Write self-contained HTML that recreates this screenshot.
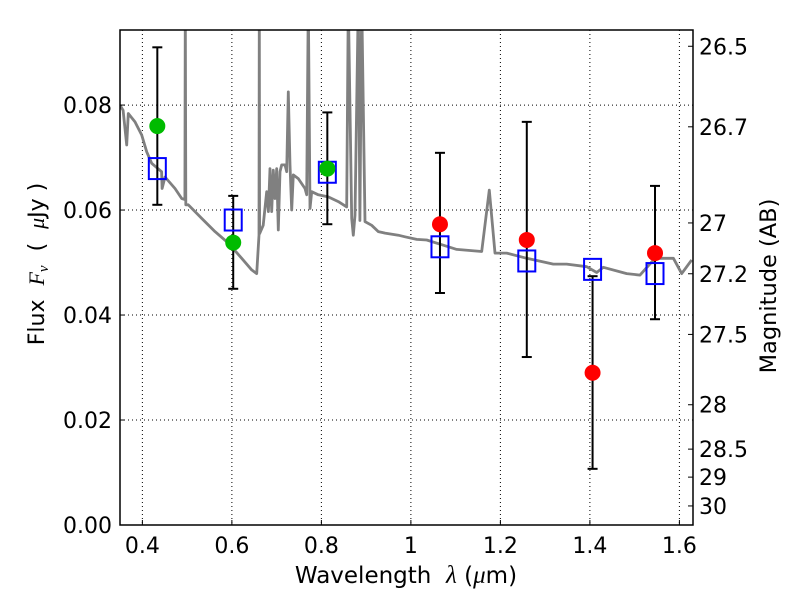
<!DOCTYPE html>
<html><head><meta charset="utf-8">
<style>
body{margin:0;background:#fff;}
svg text{font-family:"DejaVu Sans","Liberation Sans",sans-serif;fill:#000;}
</style></head>
<body>
<svg id="chart" width="800" height="600" viewBox="0 0 800 600" xmlns="http://www.w3.org/2000/svg">
<defs><clipPath id="clip"><rect x="120" y="30" width="573" height="495"/></clipPath></defs>
<rect x="0" y="0" width="800" height="600" fill="#fff"/>
<g id="grid"></g>
<g id="spec" clip-path="url(#clip)"></g>
<g id="marks" clip-path="url(#clip)"></g>
<rect x="120" y="30" width="573" height="495" fill="none" stroke="#000" stroke-width="1.5"/>
<g id="axes"></g>
<text x="406" y="583" font-size="23" text-anchor="middle">Wavelength&#160;&#160;<tspan font-family="Liberation Serif" font-style="italic" font-size="25">λ</tspan> (<tspan font-family="Liberation Serif" font-style="italic" font-size="25">μ</tspan>m)</text>
<text transform="translate(44,264) rotate(-90)" font-size="22" text-anchor="middle">Flux&#160;&#160;<tspan font-family="Liberation Serif" font-style="italic">F<tspan font-size="15" dy="4">ν</tspan></tspan><tspan dy="-4">&#160;&#160;(&#160;&#160;</tspan><tspan font-family="Liberation Serif" font-style="italic">μ</tspan>Jy )</text>
<text transform="translate(776,286) rotate(-90)" font-size="22.5" text-anchor="middle">Magnitude (AB)</text>
</svg>
<script>
const specWave=[0.35,0.357,0.365,0.3686,0.3835,0.3985,0.4097,0.4208,0.443,0.444,0.4506,0.4729,0.4878,0.495,0.496,0.497,0.5027,0.5326,0.5623,0.592,0.622,0.6443,0.6555,0.6606,0.6613,0.662,0.670,0.6778,0.6815,0.6852,0.689,0.6926,0.6964,0.7001,0.7038,0.7075,0.7113,0.7187,0.7225,0.7261,0.7299,0.7337,0.7373,0.7485,0.7634,0.7672,0.7708,0.7746,0.7784,0.7931,0.8155,0.8378,0.8566,0.8602,0.8678,0.8714,0.8751,0.8825,0.8860,0.8901,0.8975,0.9124,0.9272,0.9422,0.9719,0.9869,1.013,1.0354,1.0725,1.1024,1.1583,1.1753,1.188,1.2141,1.2588,1.3183,1.3482,1.3929,1.4152,1.43,1.4823,1.512,1.5455,1.5865,1.6052,1.6276];
const specFlux=[0.080,0.079,0.0724,0.0784,0.0768,0.0743,0.0711,0.0689,0.0673,0.0641,0.0663,0.0641,0.0622,0.062,0.10,0.061,0.0610,0.0584,0.0559,0.0537,0.0508,0.0486,0.0479,0.0552,0.10,0.0555,0.0571,0.0635,0.0597,0.0679,0.0597,0.0676,0.0622,0.0679,0.0562,0.0673,0.0686,0.0686,0.0673,0.0825,0.0686,0.060,0.0667,0.066,0.0641,0.0629,0.10,0.0603,0.0635,0.0629,0.0625,0.0616,0.0606,0.10,0.0584,0.0552,0.0590,0.10,0.058,0.10,0.0578,0.0571,0.0559,0.0556,0.0552,0.0549,0.0544,0.0543,0.0533,0.0525,0.0521,0.0638,0.0518,0.0518,0.0508,0.0497,0.0497,0.0492,0.0481,0.0491,0.0479,0.0476,0.0508,0.0508,0.0479,0.0505];
const bandWave=[0.4334,0.603,0.8133,1.065,1.259,1.406,1.5455];
const obsFlux=[0.076,0.0538,0.0679,0.0573,0.0543,0.029,0.0518];
const obsColor=["#00bb00","#00bb00","#00bb00","#ff0000","#ff0000","#ff0000","#ff0000"];
const errHigh=[0.091,0.0627,0.0786,0.0709,0.0768,0.0474,0.0646];
const errLow=[0.061,0.045,0.0573,0.0442,0.032,0.0107,0.0392];
const modelFlux=[0.0679,0.0581,0.0672,0.053,0.0503,0.0487,0.0479];
const xTicks=[0.4,0.6,0.8,1.0,1.2,1.4,1.6];
const xTickLabels=["0.4","0.6","0.8","1","1.2","1.4","1.6"];
const yTicks=[0,0.02,0.04,0.06,0.08];
const yTickLabels=["0.00","0.02","0.04","0.06","0.08"];
const magTicks=[26.5,26.7,27,27.2,27.5,28,28.5,29,30];
const magTickLabels=["26.5","26.7","27","27.2","27.5","28","28.5","29","30"];

const X0=120,X1=693,Y0=525,Y1=30,xmin=0.35,xmax=1.6304,ymin=0,ymax=0.0943;
const xs=v=>X0+(v-xmin)/(xmax-xmin)*(X1-X0);
const ys=v=>Y0-(v-ymin)/(ymax-ymin)*(Y0-Y1);
const NS="http://www.w3.org/2000/svg";
function mk(tag,attrs,parent){const e=document.createElementNS(NS,tag);for(const k in attrs)e.setAttribute(k,attrs[k]);parent.appendChild(e);return e;}
const grid=document.getElementById('grid'),axes=document.getElementById('axes'),spec=document.getElementById('spec'),marks=document.getElementById('marks');

xTicks.forEach((t,i)=>{
  const x=xs(t);
  const g=mk('line',{x1:x,x2:x,y1:Y1,y2:Y0,stroke:'#000','stroke-width':1,'stroke-dasharray':'1,3'},grid);
  
  
  mk('line',{x1:x,x2:x,y1:Y0,y2:Y0-5,stroke:'#000','stroke-width':1},axes);
  const l=mk('text',{x:x,y:Y0+28,'font-size':22,'text-anchor':'middle'},axes);
  l.textContent=xTickLabels[i];
  
  
});
yTicks.forEach((t,i)=>{
  const y=ys(t);
  const g=mk('line',{x1:X0,x2:X1,y1:y,y2:y,stroke:'#000','stroke-width':1,'stroke-dasharray':'1,3'},grid);
  
  
  mk('line',{x1:X0,x2:X0+5,y1:y,y2:y,stroke:'#000','stroke-width':1},axes);
  const l=mk('text',{x:X0-8,y:y+8,'font-size':22,'text-anchor':'end'},axes);
  l.textContent=yTickLabels[i];
  
  
});
magTicks.forEach((m,i)=>{
  const f=Math.pow(10,(23.9-m)/2.5);const y=ys(f);
  mk('line',{x1:X1,x2:X1-5,y1:y,y2:y,stroke:'#000','stroke-width':1},axes);
  const l=mk('text',{x:X1+6,y:y+8,'font-size':22,'text-anchor':'start'},axes);
  l.textContent=magTickLabels[i];
  
  
});
const pts=specWave.map((w,i)=>xs(w).toFixed(1)+','+ys(specFlux[i]).toFixed(1)).join(' ');
const sp=mk('polyline',{points:pts,fill:'none',stroke:'#808080','stroke-width':2.8,'stroke-linejoin':'round'},spec);



bandWave.forEach((w,i)=>{
  const x=xs(w);
  const eb=mk('g',{},marks);
  
  
  mk('line',{x1:x,x2:x,y1:ys(errLow[i]),y2:ys(errHigh[i]),stroke:'#000','stroke-width':2},eb);
  mk('line',{x1:x-5,x2:x+5,y1:ys(errLow[i]),y2:ys(errLow[i]),stroke:'#000','stroke-width':2},eb);
  mk('line',{x1:x-5,x2:x+5,y1:ys(errHigh[i]),y2:ys(errHigh[i]),stroke:'#000','stroke-width':2},eb);
  const sq=mk('rect',{x:x-8.5,y:ys(modelFlux[i])-10.5,width:17,height:21,fill:'none',stroke:'#0000ff','stroke-width':2},marks);
  
  
  const c=mk('circle',{cx:x,cy:ys(obsFlux[i]),r:8,fill:obsColor[i]},marks);
  
  
});
</script>
</body></html>
